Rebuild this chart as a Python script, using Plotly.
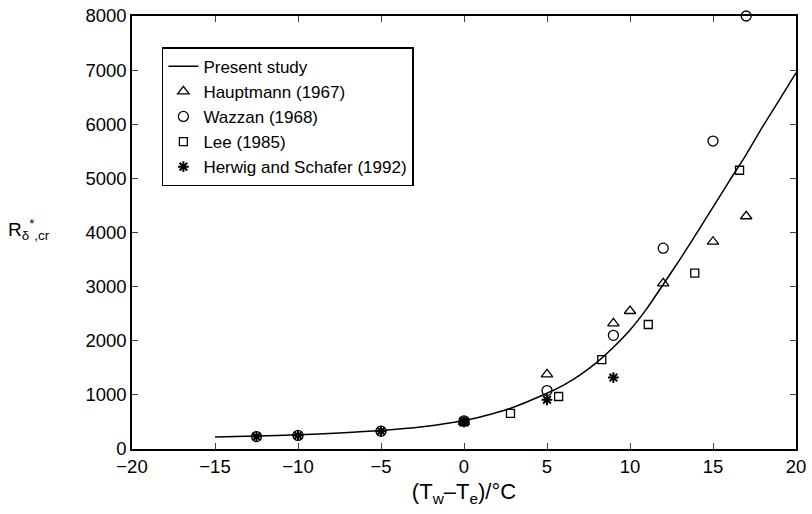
import plotly.graph_objects as go

# Present study curve
curve_x = [-15, -12.5, -10, -7.5, -5, -2.5, 0, 2.5, 5, 6, 7, 8, 9, 10, 11, 12, 13, 14, 15, 16, 17, 18, 19, 20]
curve_y = [220, 240, 262, 295, 340, 410, 525, 720, 1030, 1180, 1370, 1600, 1880, 2200, 2590, 3040,
           3500, 3980, 4470, 4960, 5440, 5960, 6450, 6950]

haupt_x = [0, 5, 9, 10, 12, 15, 17]
haupt_y = [500, 1380, 2320, 2550, 3060, 3830, 4300]

wazzan_x = [-12.5, -10, -5, 0, 5, 9, 12, 15, 17]
wazzan_y = [230, 250, 330, 520, 1080, 2100, 3710, 5690, 8000]

lee_x = [0, 2.8, 5.7, 8.3, 11.1, 13.9, 16.6]
lee_y = [500, 660, 970, 1650, 2300, 3250, 5150]

herwig_x = [-12.5, -10, -5, 0, 5, 9]
herwig_y = [230, 250, 330, 500, 910, 1320]

x_ticks = [-20, -15, -10, -5, 0, 5, 10, 15, 20]
y_ticks = [0, 1000, 2000, 3000, 4000, 5000, 6000, 7000, 8000]

fig = go.Figure()
fig.add_trace(go.Scatter(x=curve_x, y=curve_y, mode="lines", name="Present study",
                         line=dict(color="black", width=1.5, shape="spline", smoothing=0.6)))
fig.add_trace(go.Scatter(x=haupt_x, y=haupt_y, mode="markers", name="Hauptmann (1967)",
                         marker=dict(symbol="triangle-up-open", size=10, color="black",
                                     line=dict(width=1.3, color="black")), cliponaxis=False))
fig.add_trace(go.Scatter(x=wazzan_x, y=wazzan_y, mode="markers", name="Wazzan (1968)",
                         marker=dict(symbol="circle-open", size=10, color="black",
                                     line=dict(width=1.3, color="black")), cliponaxis=False))
fig.add_trace(go.Scatter(x=lee_x, y=lee_y, mode="markers", name="Lee (1985)",
                         marker=dict(symbol="square-open", size=8, color="black",
                                     line=dict(width=1.3, color="black")), cliponaxis=False))
fig.add_trace(go.Scatter(x=herwig_x, y=herwig_y, mode="markers", name="Herwig and Schafer (1992)",
                         marker=dict(symbol="asterisk-open", size=9, color="black",
                                     line=dict(width=2, color="black")), cliponaxis=False))

font_family = "Liberation Sans, Arial, sans-serif"
fig.update_layout(
    width=812, height=514,
    margin=dict(l=132, r=16, t=16, b=65, autoexpand=False),
    paper_bgcolor="white", plot_bgcolor="white",
    font=dict(family=font_family, size=18.5, color="black"),
    showlegend=True,
    legend=dict(x=0.045, y=0.928, xanchor="left", yanchor="top",
                bordercolor="black", borderwidth=1.5, bgcolor="white",
                font=dict(size=17), tracegroupgap=0, itemwidth=30),
    xaxis=dict(range=[-20, 20], tickvals=x_ticks, ticks="inside", ticklen=6,
               showline=True, linecolor="black", linewidth=1.5, mirror="ticks",
               showgrid=False, zeroline=False, automargin=False,
               title=dict(text="(T<sub>w</sub>–T<sub>e</sub>)/°C", standoff=8)),
    yaxis=dict(range=[0, 8000], tickvals=y_ticks, ticks="inside", ticklen=6,
               showline=True, linecolor="black", linewidth=1.5, mirror="ticks",
               showgrid=False, zeroline=False, automargin=False),
    annotations=[dict(text="R<sub>δ</sub><sup>*</sup><sub>,cr</sub>", xref="paper", yref="y",
                      x=-0.19, y=4050, xanchor="left", yanchor="middle",
                      showarrow=False, font=dict(size=19))],
)

fig.write_html("out.html")
